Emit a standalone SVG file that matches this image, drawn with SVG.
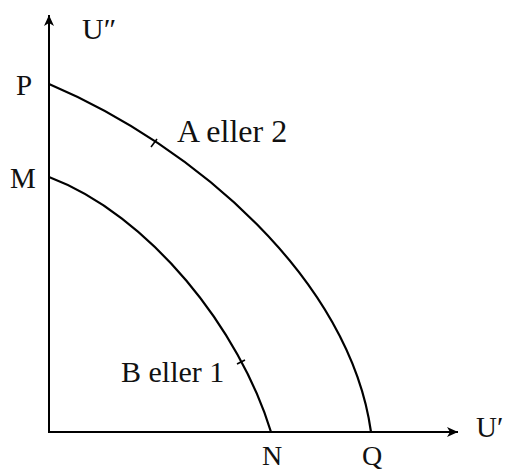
<svg xmlns="http://www.w3.org/2000/svg" width="505" height="472" viewBox="0 0 505 472">
<style>
.ax{stroke:#000;stroke-width:2;fill:none}
.cv{stroke:#000;stroke-width:2.2;fill:none}
.tk{stroke:#000;stroke-width:1.6}
text{font-family:"Liberation Serif","Times New Roman",serif;fill:#111}
</style>
<defs>
<marker id="arr" viewBox="0 0 12 12" refX="11" refY="6" markerWidth="12" markerHeight="12" markerUnits="userSpaceOnUse" orient="auto">
<path d="M0,1 L11,6 L0,11 L3,6 Z" fill="#000"/>
</marker>
</defs>
<g id="connectors">
<line class="ax" x1="49" y1="432" x2="49" y2="15" marker-end="url(#arr)"/>
<line class="ax" x1="48" y1="432" x2="458" y2="432" marker-end="url(#arr)"/>
</g>
<g id="curve-PQ">
<path class="cv" d="M49,84 C195,146 350,280 371,432"/>
<line class="tk" x1="151" y1="147" x2="157" y2="139"/>
</g>
<g id="curve-MN">
<path class="cv" d="M49,177 C150,215 240,330 271,432"/>
<line class="tk" x1="237" y1="364" x2="245" y2="360"/>
</g>
<g id="labels">
<text x="82" y="39" font-size="30">U″</text>
<text x="16" y="95" font-size="29">P</text>
<text x="10" y="188" font-size="29">M</text>
<text x="177" y="142" font-size="32">A eller 2</text>
<text x="121" y="382" font-size="30">B eller 1</text>
<text x="262" y="465" font-size="28">N</text>
<text x="362" y="465" font-size="28">Q</text>
<text x="476" y="437" font-size="29">U′</text>
</g>
</svg>
